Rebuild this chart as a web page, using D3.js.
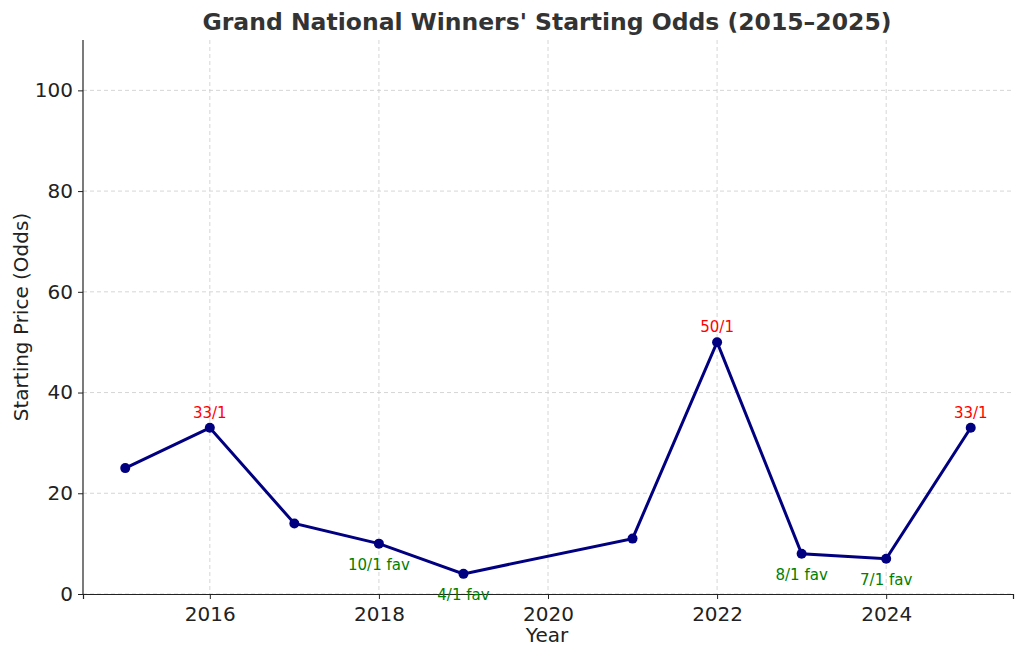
<!DOCTYPE html>
<html><head><meta charset="utf-8">
<script src="https://cdn.jsdelivr.net/npm/d3@7"></script>
<style>body{margin:0;background:#fff;font-family:"DejaVu Sans",sans-serif;}</style>
</head><body>
<script>
const years = [2015, 2016, 2017, 2018, 2019, 2021, 2022, 2023, 2024, 2025];
const odds = [25, 33, 14, 10, 4, 11, 50, 8, 7, 33];
const labels = [
  { year: 2016, text: '33/1', kind: 'long' },
  { year: 2018, text: '10/1 fav', kind: 'fav' },
  { year: 2019, text: '4/1 fav', kind: 'fav' },
  { year: 2022, text: '50/1', kind: 'long' },
  { year: 2023, text: '8/1 fav', kind: 'fav' },
  { year: 2024, text: '7/1 fav', kind: 'fav' },
  { year: 2025, text: '33/1', kind: 'long' }
];
const xTicks = [2016, 2018, 2020, 2022, 2024];
const yTicks = [0, 20, 40, 60, 80, 100];

const margin = { top: 40, right: 11, bottom: 64, left: 83 };
const W = 1024, H = 658;
const w = W - margin.left - margin.right, h = H - margin.top - margin.bottom;

const svg = d3.select('body').append('svg').attr('width', W).attr('height', H);
const g = svg.append('g').attr('transform', `translate(${margin.left},${margin.top})`);

const x = d3.scaleLinear().domain([2014.5, 2025.5]).range([0, w]);
const y = d3.scaleLinear().domain([0, 110]).range([h, 0]);

// grid
g.selectAll('.gx').data(xTicks).enter().append('line')
  .attr('x1', d => x(d)).attr('x2', d => x(d)).attr('y1', 0).attr('y2', h)
  .attr('stroke', '#ccc').attr('stroke-dasharray', '4,3').attr('stroke-width', 0.8);
g.selectAll('.gy').data(yTicks).enter().append('line')
  .attr('y1', d => y(d)).attr('y2', d => y(d)).attr('x1', 0).attr('x2', w)
  .attr('stroke', '#ccc').attr('stroke-dasharray', '4,3').attr('stroke-width', 0.8);

const xAxis = g.append('g').attr('transform', `translate(0,${h})`)
  .call(d3.axisBottom(x).tickValues(xTicks).tickFormat(d3.format('d')).tickSizeOuter(0).tickSize(5));
const yAxis = g.append('g').call(d3.axisLeft(y).tickValues(yTicks).tickSizeOuter(0).tickSize(5));
[xAxis, yAxis].forEach(a => {
  a.selectAll('text').attr('font-size', 20).attr('fill', '#222').attr('font-family', 'DejaVu Sans');
  a.select('.domain').attr('stroke', '#222').attr('stroke-width', 1.2);
  a.selectAll('.tick line').attr('stroke', '#222');
});
xAxis.selectAll('text').attr('dy', '0.95em');
yAxis.selectAll('text').attr('dx', '-0.1em');
yAxis.select('.domain').attr('d', `M0,${h}V0`);

const pts = years.map((yr, i) => ({ yr, v: odds[i] }));
g.append('path').datum(pts)
  .attr('d', d3.line().x(d => x(d.yr)).y(d => y(d.v)))
  .attr('fill', 'none').attr('stroke', '#000080').attr('stroke-width', 3);
g.selectAll('.pt').data(pts).enter().append('circle')
  .attr('cx', d => x(d.yr)).attr('cy', d => y(d.v)).attr('r', 5).attr('fill', '#000080');

g.selectAll('.lab').data(labels).enter().append('text')
  .attr('x', d => x(d.year))
  .attr('y', d => y(odds[years.indexOf(d.year)]) + (d.kind === 'long' ? -10 : 26))
  .attr('text-anchor', 'middle').attr('font-size', 15)
  .attr('fill', d => d.kind === 'long' ? 'red' : 'green')
  .text(d => d.text);

svg.append('text').attr('x', margin.left + w / 2 - 1).attr('y', 30).attr('text-anchor', 'middle')
  .attr('font-size', 23.5).attr('font-weight', 'bold').attr('fill', '#333')
  .text("Grand National Winners' Starting Odds (2015–2025)");
svg.append('text').attr('x', margin.left + w / 2 - 1).attr('y', 642).attr('text-anchor', 'middle')
  .attr('font-size', 20).attr('fill', '#222').text('Year');
svg.append('text').attr('transform', `translate(28,${margin.top + h / 2}) rotate(-90)`)
  .attr('text-anchor', 'middle').attr('font-size', 20).attr('fill', '#222').text('Starting Price (Odds)');
</script>
</body></html>
